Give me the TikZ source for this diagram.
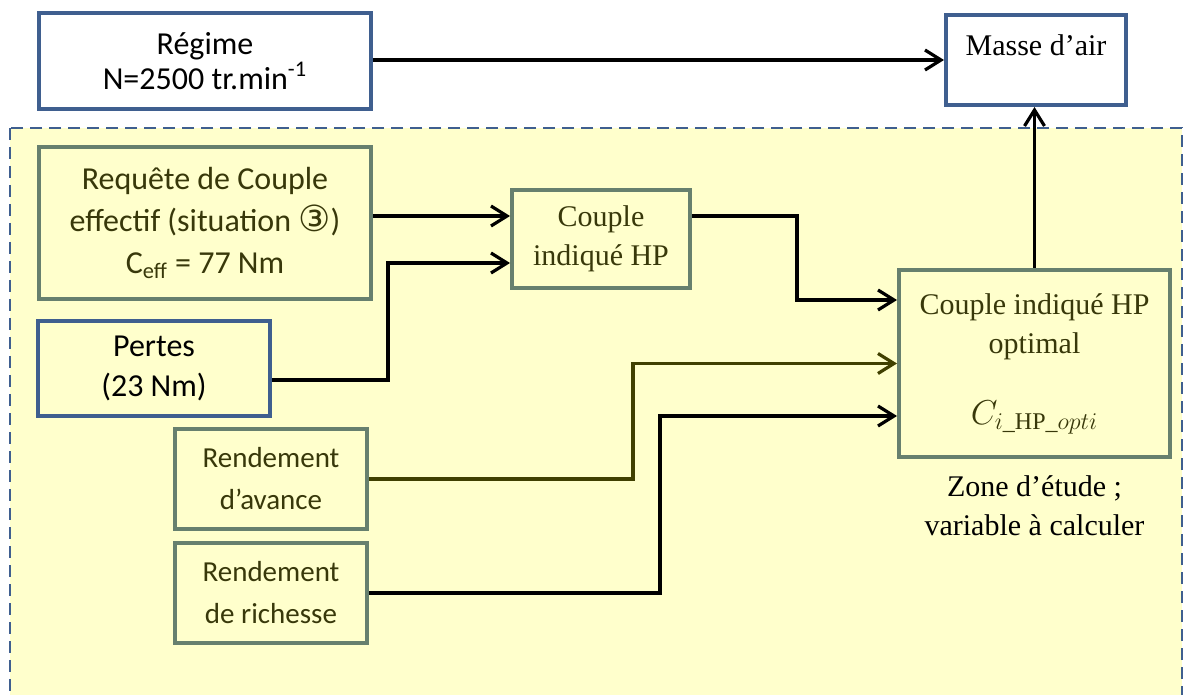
\documentclass[tikz,border=0pt]{standalone}
\usepackage{fontspec}
\usepackage{amsmath}
\setmainfont{Liberation Serif}
\newfontfamily\calibri{Carlito}
\newfontfamily\symb{DejaVu Sans}
\usepackage{tikz}
\usetikzlibrary{arrows.meta, positioning, calc}

\definecolor{boxblue}{HTML}{3F5F8F}
\definecolor{boxgreen}{HTML}{67806E}
\definecolor{zoneyellow}{HTML}{FFFFCC}
\definecolor{olivetext}{HTML}{38380A}
\definecolor{oliveline}{HTML}{404000}

\begin{document}
\begin{tikzpicture}[x=0.5pt, y=-0.5pt,
    bluebox/.style={draw=boxblue, line width=2pt, align=center, inner sep=0pt},
    greenbox/.style={draw=boxgreen, line width=2pt, align=center, inner sep=0pt, text=olivetext},
    cal/.style={font=\calibri\fontsize{16}{20}\selectfont},
    tms/.style={font=\fontsize{15}{19.5}\selectfont},
    arr/.style={-{Straight Barb[length=8pt, width=10pt]}, line width=1.6pt},
    zone/.style={draw=boxblue, fill=zoneyellow, line width=1.3pt, dash pattern=on 6pt off 3.5pt}]
    \useasboundingbox (0,0) rectangle (1184,695);

    % Study zone
    \draw[zone] (10,128) rectangle (1182,720);

    % Blocks outside the zone
    \node[bluebox, fill=white, minimum width=166pt, minimum height=48pt,
        font=\calibri\fontsize{16}{17.5}\selectfont] (regime) at (205,61)
        {Régime\\N=2500 tr.min\textsuperscript{-1}};
    \node[bluebox, fill=white, minimum width=90pt, minimum height=45pt] (masse) at (1036,60) {};
    \node[tms] (masselbl) at (1036,45) {Masse d’air};

    % Blocks inside the zone
    \node[greenbox, fill=zoneyellow, minimum width=166pt, minimum height=76pt,
        font=\calibri\fontsize{16}{21}\selectfont] (requete) at (205,223)
        {Requête de Couple\\effectif (situation {\symb\fontsize{18}{21}\selectfont ③})\\C\textsubscript{eff} = 77 Nm};
    \node[bluebox, cal, fill=zoneyellow, minimum width=116pt, minimum height=47.5pt] (pertes) at (154,368.5)
        {Pertes\\(23 Nm)};
    \node[greenbox, tms, fill=zoneyellow, minimum width=89pt, minimum height=49pt] (couple) at (601,239)
        {Couple\\indiqué HP};
    \node[greenbox, fill=zoneyellow, minimum width=96pt, minimum height=50pt,
        font=\calibri\fontsize{14.5}{21}\selectfont] (avance) at (271,479)
        {Rendement\\d’avance};
    \node[greenbox, fill=zoneyellow, minimum width=96pt, minimum height=50pt,
        font=\calibri\fontsize{14.5}{21}\selectfont] (richesse) at (271,593)
        {Rendement\\de richesse};
    \node[greenbox, tms, fill=zoneyellow, minimum width=135.5pt, minimum height=93.5pt] (opti) at (1034.5,363.5)
        {Couple indiqué HP\\optimal\\[16pt]{\fontsize{17.28}{20}\selectfont$C_{i\_\mathrm{HP}\_opti}$}};
    \node[tms, align=center, below=5pt of opti] (zonelbl) {Zone d’étude ;\\variable à calculer};

    % Entry points
    \coordinate (cin1) at ($(couple.west)+(0,-23)$);
    \coordinate (cin2) at ($(couple.west)+(0,24)$);
    \coordinate (oin1) at ($(opti.west)+(0,-63.5)$);
    \coordinate (oin2) at (opti.west);
    \coordinate (oin3) at ($(opti.west)+(0,52.5)$);

    % Connectors
    \draw[arr] (regime.east |- masse.west) -- (masse.west);
    \draw[arr] (requete.east |- cin1) -- (cin1);
    \draw[arr] ($(pertes.east)+(0,11.5)$) -| ($(cin2)+(-122,0)$) -- (cin2);
    \draw[arr] (couple.east |- cin1) -| ($(oin1)+(-100,0)$) -- (oin1);
    \draw[arr, oliveline] (avance.east) -| ($(oin2)+(-264,0)$) -- (oin2);
    \draw[arr] (richesse.east) -| ($(oin3)+(-237,0)$) -- (oin3);
    \draw[arr] (opti.north) -- (opti.north |- masse.south);
\end{tikzpicture}
\end{document}
